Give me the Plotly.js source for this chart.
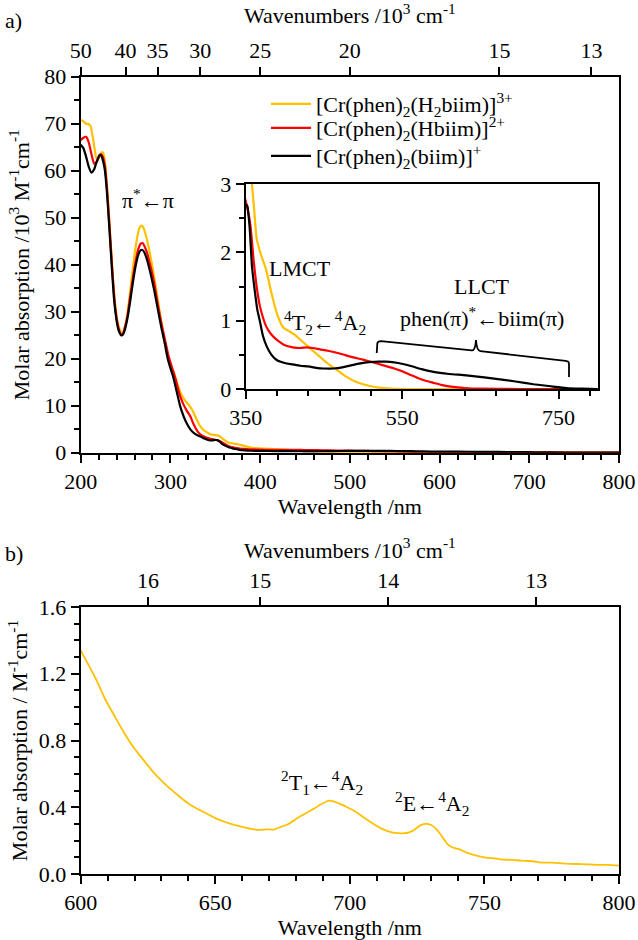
<!DOCTYPE html>
<html>
<head>
<meta charset="utf-8">
<script src="https://cdn.plot.ly/plotly-3.0.1.min.js"></script>
<style>html,body{margin:0;padding:0;background:#fff;}#chart{width:638px;height:940px;}</style>
</head>
<body>
<div id="chart"></div>
<script>
// ---------- Panel a data (wavelength nm, molar absorption /10^3 M-1 cm-1) ----------
const wlH2biim = [200,203,206,209,211,214,217,219,221,223,225,227,229,231,233,235,237,239,241,243,245,247,249,252,255,258,261,264,266,268,270,273,276,280,284,288,292,296,300,304,308,312,316,320,324,328,332,336,340,344,348,352,355,358,361,364,370,376,383,390,398,405,412,420,430,440,450,460,470,480,490,500,510,520,535,560,600,700,800];
const absH2biim = [70.8,70.5,70.0,69.9,69.5,66.5,63.0,62.3,63.0,63.9,63.8,62.0,57.5,52.0,46.0,40.0,34.5,30.5,28.0,26.5,25.6,25.5,26.5,29.5,34.0,39.0,43.5,46.8,48.0,48.3,47.8,46.0,43.5,39.5,35.0,30.0,25.5,21.0,18.5,17.0,14.5,12.5,11.2,10.3,9.2,7.6,6.0,5.0,4.4,4.0,3.8,3.7,3.5,3.0,2.6,2.2,1.95,1.75,1.4,1.1,0.9,0.85,0.8,0.72,0.62,0.52,0.42,0.33,0.25,0.17,0.11,0.07,0.04,0.02,0.005,0.0,0.0,0.0,0.0];

const wlHbiim = [200,203,206,209,212,215,218,221,223,225,227,229,231,233,235,237,239,241,243,245,247,249,252,255,258,261,264,267,269,271,274,278,282,286,290,294,298,302,306,310,314,318,322,326,330,334,338,342,346,350,353,356,360,364,368,372,376,380,385,392,400,410,420,428,436,445,455,470,485,500,513,525,540,550,560,570,580,590,600,615,630,650,700,800];
const absHbiim = [66.5,67.0,67.2,66.0,63.5,61.5,62.0,63.3,63.5,62.8,61.0,57.0,51.5,45.5,39.5,34.0,30.0,27.5,26.0,25.2,25.3,26.5,29.0,33.0,37.0,40.5,43.2,44.5,44.6,44.0,42.5,39.5,36.0,31.5,27.5,24.0,20.5,18.0,15.5,12.5,10.5,9.0,7.8,6.0,4.6,3.8,3.4,3.1,2.9,2.75,2.6,2.4,1.9,1.5,1.22,1.05,0.92,0.84,0.77,0.7,0.64,0.61,0.6,0.61,0.6,0.58,0.56,0.52,0.47,0.43,0.39,0.35,0.3,0.26,0.21,0.16,0.12,0.09,0.06,0.03,0.015,0.005,0.0,0.0];

const wlBiim = [200,203,206,209,212,215,218,221,223,225,227,229,231,233,235,237,239,241,243,245,247,249,252,255,258,261,264,267,269,271,274,278,282,286,290,294,297,300,303,307,311,315,318,322,326,330,334,338,342,346,350,352,355,358,362,365,368,372,377,383,390,400,410,420,430,440,450,462,475,490,505,520,530,545,560,575,590,610,632,655,675,695,718,740,760,780,800];
const absBiim = [65.5,64.8,63.0,60.8,59.6,60.3,62.0,63.3,63.2,62.0,60.0,56.0,50.5,44.5,38.5,33.0,29.5,27.0,25.6,25.0,25.1,26.0,28.5,32.0,36.0,39.5,42.0,43.1,43.1,42.6,41.0,38.0,34.5,30.5,26.5,23.0,20.0,18.0,16.2,13.0,9.8,7.6,6.3,5.0,4.2,3.7,3.4,3.0,2.7,2.6,2.7,2.68,2.37,1.8,1.4,1.15,1.0,0.78,0.62,0.5,0.42,0.38,0.36,0.34,0.33,0.31,0.30,0.30,0.32,0.36,0.39,0.40,0.40,0.38,0.34,0.29,0.25,0.22,0.20,0.17,0.14,0.11,0.07,0.04,0.015,0.005,0.0];

const seriesNames = [
  '[Cr(phen)<sub>2</sub>(H<sub>2</sub>biim)]<sup>3+</sup>',
  '[Cr(phen)<sub>2</sub>(Hbiim)]<sup>2+</sup>',
  '[Cr(phen)<sub>2</sub>(biim)]<sup>+</sup>'
];
const seriesColors = ['#FFC000', '#FF0000', '#000000'];

// Top axis wavenumber ticks (10^3 cm-1)
const wavenumTicksA = [50, 40, 35, 30, 25, 20, 15, 13];
const wavenumTicksB = [16, 15, 14, 13];

// ---------- Panel b data (wavelength nm, molar absorption M-1 cm-1) ----------
const wlB = [600,603,605.9,609,612.8,616,619.6,623,626.5,630,633.3,637,640.2,644,647.1,650,653.9,657,660.8,663.5,666.3,669,671.7,674,677.2,681,685.5,689,692.3,694,696.4,699,701.9,705,708.8,712,715.6,718,719.8,722,723.9,726,728,730,732.1,734,736.2,738,740.3,743.1,746,749.9,753,756.8,760,763.6,767,770.5,775,780,784.2,788,792,796,800];
const absB = [1.34,1.25,1.16,1.05,0.94,0.85,0.76,0.69,0.62,0.56,0.51,0.46,0.42,0.385,0.36,0.335,0.31,0.295,0.28,0.27,0.264,0.268,0.266,0.28,0.30,0.34,0.38,0.415,0.44,0.435,0.42,0.40,0.376,0.34,0.30,0.27,0.25,0.245,0.244,0.25,0.264,0.29,0.30,0.295,0.27,0.23,0.18,0.16,0.15,0.13,0.115,0.10,0.095,0.086,0.085,0.08,0.078,0.07,0.068,0.062,0.06,0.058,0.055,0.055,0.05];

// ---------- build ----------
const FONT = '"Liberation Serif", "Times New Roman", serif';
const FS = 22;
const wlSets = [wlH2biim, wlHbiim, wlBiim];
const absSets = [absH2biim, absHbiim, absBiim];
const legendIds = ['legend', 'legend2', 'legend3'];
const traces = [];
for (let i = 0; i < 3; i++) {
  traces.push({
    x: wlSets[i], y: absSets[i], xaxis: 'x', yaxis: 'y', type: 'scatter', mode: 'lines',
    name: seriesNames[i], legend: legendIds[i],
    line: {color: seriesColors[i], width: 2.2, shape: 'spline', smoothing: 0.5}
  });
}
// inset traces (same data, visible window 350-800)
for (let i = 0; i < 3; i++) {
  const xs = [], ys = [];
  wlSets[i].forEach((w, k) => { if (w >= 340) { xs.push(w); ys.push(absSets[i][k]); } });
  traces.push({
    x: xs, y: ys, xaxis: 'x3', yaxis: 'y3', type: 'scatter', mode: 'lines', showlegend: false,
    line: {color: seriesColors[i], width: 2.2, shape: 'spline', smoothing: 0.5}
  });
}
traces.push({
  x: wlB, y: absB, xaxis: 'x4', yaxis: 'y4', type: 'scatter', mode: 'lines', showlegend: false,
  line: {color: seriesColors[0], width: 1.8, shape: 'spline', smoothing: 0.4}
});
// empty traces that only register the top (wavenumber) axes
traces.push({x: [], y: [], xaxis: 'x2', yaxis: 'y', type: 'scatter', mode: 'lines', showlegend: false, hoverinfo: 'skip'});
traces.push({x: [], y: [], xaxis: 'x5', yaxis: 'y4', type: 'scatter', mode: 'lines', showlegend: false, hoverinfo: 'skip'});

const W = 638, H = 940;
const px = v => v / W;
const py = v => (H - v) / H;

const axBase = {
  showline: true, linecolor: '#000', linewidth: 2, showgrid: false, zeroline: false,
  ticks: 'outside', ticklen: 8, tickwidth: 2, tickcolor: '#000',
  tickfont: {family: FONT, size: FS, color: '#000'}
};
const minorStyle = (d, t0) => {
  const m = {ticks: 'outside', ticklen: 5, tickwidth: 2, tickcolor: '#000', dtick: d, showgrid: false};
  if (t0 !== undefined) m.tick0 = t0;
  return m;
};
const titleFont = {family: FONT, size: FS, color: '#000'};
const legendStyle = top => ({
  x: px(266), y: py(top), xanchor: 'left', yanchor: 'top',
  bgcolor: 'rgba(0,0,0,0)', borderwidth: 0, itemwidth: 40,
  font: {family: FONT, size: FS, color: '#000'}
});

const domXA = [px(80.7), px(619)];
const layout = {
  width: W, height: H,
  margin: {l: 0, r: 0, t: 0, b: 0},
  paper_bgcolor: '#fff', plot_bgcolor: 'rgba(0,0,0,0)',
  font: {family: FONT, size: FS, color: '#000'},
  showlegend: true,
  legend: legendStyle(83),
  legend2: legendStyle(107),
  legend3: legendStyle(135),
  xaxis: Object.assign({}, axBase, {
    domain: domXA, anchor: 'y', range: [200, 800], tick0: 200, dtick: 100,
    minor: minorStyle(20), mirror: false,
    title: {text: 'Wavelength /nm', font: titleFont, standoff: 4}
  }),
  xaxis2: Object.assign({}, axBase, {
    overlaying: 'x', anchor: 'y', side: 'top', range: [200, 800],
    tickmode: 'array', tickvals: wavenumTicksA.map(k => 1e4 / k), ticktext: wavenumTicksA.map(String),
    title: {text: 'Wavenumbers /10<sup>3</sup> cm<sup>-1</sup>', font: titleFont, standoff: 10}
  }),
  yaxis: Object.assign({}, axBase, {
    domain: [py(452.7), py(76.7)], anchor: 'x', range: [0, 80], dtick: 10,
    minor: minorStyle(5), mirror: true,
    title: {text: 'Molar absorption /10<sup>3</sup> M<sup>-1</sup>cm<sup>-1</sup>', font: titleFont, standoff: 9}
  }),
  xaxis3: Object.assign({}, axBase, {
    domain: [px(245.7), px(597.7)], anchor: 'y3', range: [350, 800], tick0: 350, dtick: 200,
    minor: minorStyle(40, 350), mirror: true
  }),
  yaxis3: Object.assign({}, axBase, {
    domain: [py(389), py(184)], anchor: 'x3', range: [0, 3], dtick: 1,
    minor: minorStyle(0.5), mirror: true
  }),
  xaxis4: Object.assign({}, axBase, {
    domain: domXA, anchor: 'y4', range: [600, 800], tick0: 600, dtick: 50,
    minor: minorStyle(10),
    title: {text: 'Wavelength /nm', font: titleFont, standoff: 11}
  }),
  xaxis5: Object.assign({}, axBase, {
    overlaying: 'x4', anchor: 'y4', side: 'top', range: [600, 800],
    tickmode: 'array', tickvals: wavenumTicksB.map(k => 1e4 / k), ticktext: wavenumTicksB.map(String),
    title: {text: 'Wavenumbers /10<sup>3</sup> cm<sup>-1</sup>', font: titleFont, standoff: 4}
  }),
  yaxis4: Object.assign({}, axBase, {
    domain: [py(874), py(607)], anchor: 'x4', range: [0, 1.6], dtick: 0.4, tickformat: '.1f',
    minor: minorStyle(0.1), mirror: true,
    title: {text: 'Molar absorption / M<sup>-1</sup>cm<sup>-1</sup>', font: titleFont, standoff: 5}
  }),
  annotations: [
    {text: 'a)', xref: 'paper', yref: 'paper', x: px(3), y: py(20), xanchor: 'left', yanchor: 'middle', showarrow: false, font: titleFont},
    {text: 'b)', xref: 'paper', yref: 'paper', x: px(3), y: py(553), xanchor: 'left', yanchor: 'middle', showarrow: false, font: titleFont},
    {text: 'π<sup>*</sup>←π', xref: 'x', yref: 'y', x: 275, y: 54, showarrow: false, font: titleFont},
    {text: 'LMCT', xref: 'x3', yref: 'y3', x: 419, y: 1.77, showarrow: false, font: titleFont},
    {text: '<sup>4</sup>T<sub>2</sub>←<sup>4</sup>A<sub>2</sub>', xref: 'x3', yref: 'y3', x: 451, y: 0.98, showarrow: false, font: titleFont},
    {text: 'LLCT', xref: 'x3', yref: 'y3', x: 652, y: 1.50, showarrow: false, font: titleFont},
    {text: 'phen(π)<sup>*</sup>←biim(π)', xref: 'x3', yref: 'y3', x: 652, y: 1.06, showarrow: false, font: titleFont},
    {text: '<sup>2</sup>T<sub>1</sub>←<sup>4</sup>A<sub>2</sub>', xref: 'x4', yref: 'y4', x: 689.6, y: 0.55, showarrow: false, font: titleFont},
    {text: '<sup>2</sup>E←<sup>4</sup>A<sub>2</sub>', xref: 'x4', yref: 'y4', x: 730.7, y: 0.42, showarrow: false, font: titleFont}
  ],
  shapes: [
    {type: 'path', xref: 'x3', yref: 'y3',
     path: 'M517.5,0.527 L518.3,0.67 Q519,0.70 523,0.70 L639,0.565 Q643.5,0.56 644.4,0.717 Q645.3,0.56 650,0.555 L759,0.41 Q763.3,0.405 763.3,0.37 L763.3,0.176',
     line: {color: '#000', width: 1.8}}
  ]
};

Plotly.newPlot('chart', traces, layout, {staticPlot: true, displayModeBar: false});
</script>
</body>
</html>
